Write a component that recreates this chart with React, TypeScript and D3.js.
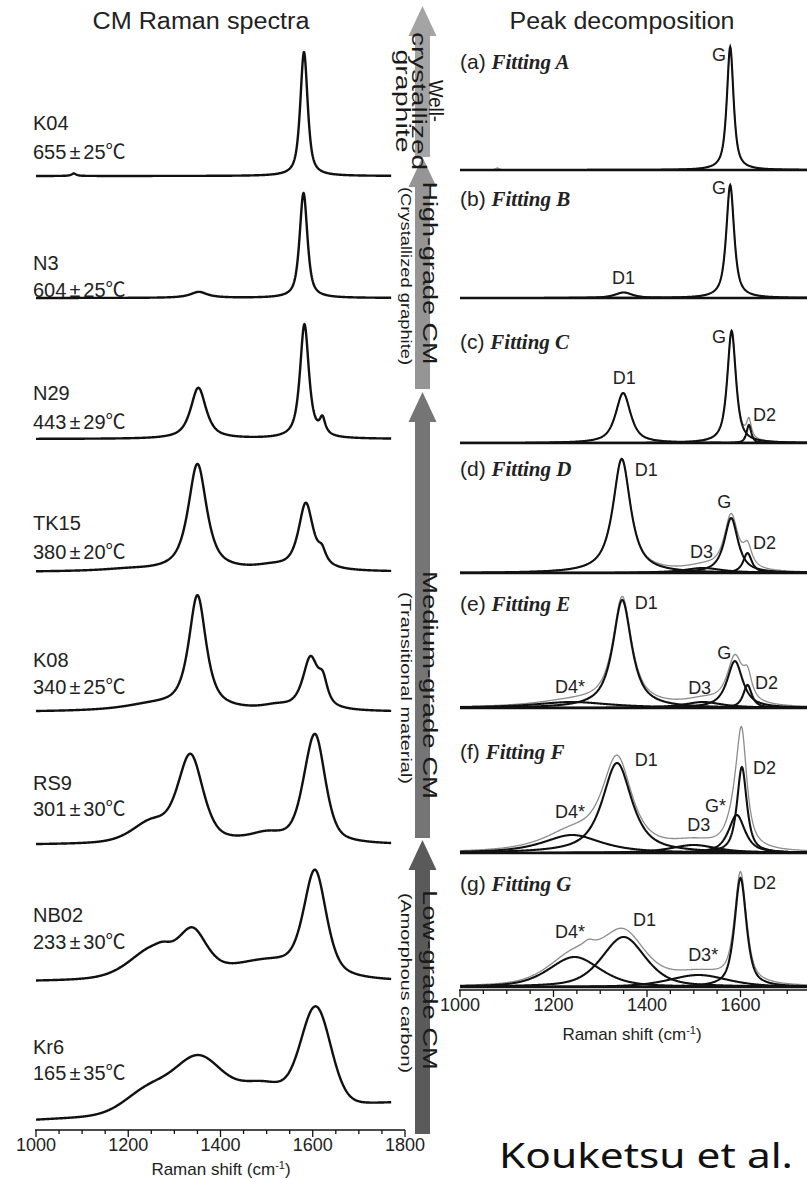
import React from 'react';
import * as d3 from 'd3';

// band = [centre (cm-1), height, FWHM (cm-1), Lorentzian fraction]
type Band = [number, number, number, number];

const W = 807;
const H = 1179;
const FONT = "'Liberation Sans', Arial, 'Noto Sans CJK JP', sans-serif";
const SERIF = "'Liberation Serif', 'Times New Roman', serif";

// ---- left column: measured spectra ----
const sampleNames = ['K04', 'N3', 'N29', 'TK15', 'K08', 'RS9', 'NB02', 'Kr6'];
const sampleTemps = ['655', '604', '443', '380', '340', '301', '233', '165'];
const sampleErrors = ['25', '25', '29', '20', '25', '30', '30', '35'];

const specK04: Band[] = [[1581, 124, 19, 0.7], [1082, 2.5, 12, 1]];
const specN3: Band[] = [[1580, 105, 20, 0.7], [1353, 6, 45, 1]];
const specN29: Band[] = [[1582, 114, 23, 0.8], [1352, 51, 40, 0.8], [1621, 16, 15, 1]];
const specTK15: Band[] = [[1350, 107, 48, 0.8], [1585, 66, 38, 0.8], [1620, 13, 22, 1], [1510, 4, 100, 1], [1200, 2, 150, 1]];
const specK08: Band[] = [[1350, 114, 45, 0.8], [1595, 51, 40, 0.8], [1622, 22, 24, 0.8], [1250, 6, 160, 1], [1520, 4, 80, 1]];
const specRS9: Band[] = [[1335, 86, 65, 0.5], [1250, 20, 100, 0.5], [1500, 9, 100, 1], [1585, 14, 50, 0.5], [1606, 100, 52, 0.5]];
const specNB02: Band[] = [[1340, 42, 75, 0.5], [1250, 28, 120, 0.5], [1500, 18, 200, 0.5], [1605, 103, 58, 0.5], [1275, 6, 45, 1]];
const specKr6: Band[] = [[1352, 52, 120, 0.1], [1245, 24, 120, 0.1], [1490, 25, 140, 0.1], [1607, 96, 76, 0.1]];
// rise of the background at the high-shift end of each spectrum
const specSlope = [0, 0, 0, 0, 0, 0, 0, 17];

// ---- right column: peak decomposition ----
const fitLetters = ['(a)', '(b)', '(c)', '(d)', '(e)', '(f)', '(g)'];
const fitNames = ['Fitting A', 'Fitting B', 'Fitting C', 'Fitting D', 'Fitting E', 'Fitting F', 'Fitting G'];

const fitA: Band[] = [[1578, 123, 17, 0.8]];
const fitB: Band[] = [[1578, 113, 20, 0.8], [1350, 5.5, 45, 0.8]];
const fitC: Band[] = [[1581, 112, 22, 0.8], [1349, 50, 38, 0.8], [1618, 18, 12, 0.8]];
const fitD: Band[] = [[1346, 114, 45, 0.9], [1580, 55, 35, 0.9], [1615, 20, 22, 0.9], [1520, 5, 100, 1]];
const fitE: Band[] = [[1347, 108, 48, 0.9], [1588, 47, 40, 0.9], [1615, 23, 22, 0.9], [1520, 6, 100, 1], [1240, 6, 200, 1]];
const fitF: Band[] = [[1336, 90, 75, 0.8], [1240, 18, 150, 0.8], [1500, 8, 120, 0.8], [1592, 38, 42, 0.8], [1603, 86, 25, 0.8]];
const fitG: Band[] = [[1245, 30, 130, 0.5], [1350, 50, 110, 0.5], [1510, 12, 150, 0.5], [1600, 109, 30, 0.7]];
// spectrum features left out of the fit (only in the grey envelope)
const fitResidual: Band[][] = [[[1080, 2, 10, 1]], [], [], [], [], [[1600, 6, 20, 1]], [[1275, 6, 30, 1]]];

// peak labels: [text, shift of label start, height above baseline]
const labelsA: [string, number, number][] = [['G', 1539, 115]];
const labelsB: [string, number, number][] = [['G', 1539, 110], ['D1', 1325, 20]];
const labelsC: [string, number, number][] = [['G', 1539, 106], ['D1', 1327, 65], ['D2', 1627, 28]];
const labelsD: [string, number, number][] = [['D1', 1374, 103], ['G', 1550, 71], ['D2', 1627, 30], ['D3', 1492, 21]];
const labelsE: [string, number, number][] = [['D1', 1374, 105], ['G', 1550, 55], ['D2', 1631, 25], ['D3', 1488, 20], ['D4*', 1203, 21]];
const labelsF: [string, number, number][] = [['D1', 1374, 93], ['D2', 1627, 85], ['G*', 1524, 47], ['D3', 1486, 28], ['D4*', 1203, 41]];
const labelsG: [string, number, number][] = [['D2', 1627, 104], ['D1', 1370, 67], ['D4*', 1203, 55], ['D3*', 1488, 32]];

const tickValues = [1000, 1200, 1400, 1600, 1800];

// grade arrows
const gradeMain = [['Well-', 'crystallized', 'graphite'], ['High-grade CM'], ['Medium-grade CM'], ['Low-grade CM']];
const gradeSub = ['', '(Crystallized graphite)', '(Transitional material)', '(Amorphous carbon)'];

// ---- layout ----
const leftBase = [176, 298, 439, 572, 712, 845, 982, 1120];
const leftLabelY = [[123, 152], [263, 290], [393, 422], [523, 552], [660, 687], [783, 809], [915, 942], [1047, 1073]];
const rightBase = [170, 298, 443, 573, 708, 853, 987];
const fitTitleY = [63, 200, 343, 470, 605, 753, 885];
const arrowSpans = [[6, 157], [157, 389], [392, 838], [840, 1134]];
const arrowColors = ['#a4a4a4', '#959595', '#757575', '#5a5a5a'];
const arrowTextY = [101, 273, 685, 980];
const arrowMainLen = [[42, 138, 103], [183], [228], [180]];
const arrowSubLen = [0, 178, 192, 180];

const pv = (x: number, [c, h, w, eta]: Band) => {
  const u = (x - c) / w;
  return h * (eta / (1 + 4 * u * u) + (1 - eta) * Math.exp(-4 * Math.LN2 * u * u));
};
const sumBands = (x: number, bands: Band[]) => bands.reduce((s, b) => s + pv(x, b), 0);

const xLeft = d3.scaleLinear().domain([1000, 1800]).range([36, 405]);
const xRight = d3.scaleLinear().domain([1000, 1800]).range([460, 834]);
const shiftsLeft = d3.range(1000, 1770.5, 1);
const shiftsRight = d3.range(1000, 1800.5, 1);

const Axis = ({ x, y, x1 }: { x: d3.ScaleLinear<number, number>; y: number; x1: number }) => (
  <g>
    <line x1={x(1000) - 1} x2={x1} y1={y} y2={y} stroke="#111" strokeWidth={1.6} />
    {x.ticks(16).filter(t => x(t) <= W).map(t => (
      <line key={t} x1={x(t)} x2={x(t)} y1={y} y2={y + (t % 200 === 0 ? 7 : 4)} stroke="#111" strokeWidth={1.3} />
    ))}
    {tickValues.filter(t => x(t) + 22 <= W).map(t => (
      <text key={t} x={x(t)} y={y + 15} dy="0.35em" textAnchor="middle" fontSize={18} fill="#222">{t}</text>
    ))}
  </g>
);

const AxisTitle = ({ x, y }: { x: number; y: number }) => (
  <text x={x} y={y} textAnchor="middle" fontSize={17} fill="#222">
    Raman shift (cm<tspan dy={-6} fontSize={11}>-1</tspan><tspan dy={6}>)</tspan>
  </text>
);

export default function App() {
  const spectra = [specK04, specN3, specN29, specTK15, specK08, specRS9, specNB02, specKr6];
  const fits = [fitA, fitB, fitC, fitD, fitE, fitF, fitG];
  const fitLabels = [labelsA, labelsB, labelsC, labelsD, labelsE, labelsF, labelsG];

  return (
    <svg width={W} height={H} viewBox={`0 0 ${W} ${H}`}
      style={{ position: 'absolute', left: 0, top: 0, background: '#fff', fontFamily: FONT }}>
      <rect width={W} height={H} fill="#fff" />

      {/* titles */}
      <text x={201} y={21} dy="0.35em" textAnchor="middle" fontSize={23} fill="#222" textLength={217} lengthAdjust="spacingAndGlyphs">CM Raman spectra</text>
      <text x={622} y={21} dy="0.35em" textAnchor="middle" fontSize={23} fill="#222" textLength={225} lengthAdjust="spacingAndGlyphs">Peak decomposition</text>

      {/* left: spectra */}
      {spectra.map((bands, i) => {
        const y = d3.scaleLinear().domain([0, 100]).range([leftBase[i], leftBase[i] - 100]);
        const line = d3.line<number>()
          .x(s => xLeft(s))
          .y(s => y(sumBands(s, bands) + specSlope[i] * (s - 1000) / 770));
        return (
          <g key={sampleNames[i]}>
            <path d={line(shiftsLeft) ?? ''} fill="none" stroke="#111" strokeWidth={2.4} strokeLinejoin="round" />
            <text x={33} y={leftLabelY[i][0]} dy="0.35em" fontSize={20} fill="#222">{sampleNames[i]}</text>
            <text x={33} y={leftLabelY[i][1]} dy="0.35em" fontSize={20} fill="#222">
              {sampleTemps[i]}<tspan dx={3}>±</tspan><tspan dx={3}>{sampleErrors[i]}℃</tspan>
            </text>
          </g>
        );
      })}
      <Axis x={xLeft} y={1130} x1={xLeft(1800)} />
      <AxisTitle x={221} y={1175} />

      {/* right: decomposition */}
      {fits.map((bands, i) => {
        const y = d3.scaleLinear().domain([0, 100]).range([rightBase[i], rightBase[i] - 100]);
        const env = d3.line<number>()
          .x(s => xRight(s))
          .y(s => y(sumBands(s, bands) + sumBands(s, fitResidual[i])));
        return (
          <g key={fitNames[i]}>
            <path d={env(shiftsRight) ?? ''} fill="none" stroke="#8c8c8c" strokeWidth={1.3} />
            {bands.map((b, j) => {
              const comp = d3.line<number>().x(s => xRight(s)).y(s => y(pv(s, b)));
              return <path key={j} d={comp(shiftsRight) ?? ''} fill="none" stroke="#111" strokeWidth={2.1} />;
            })}
            <line x1={xRight(1000)} x2={W} y1={rightBase[i]} y2={rightBase[i]} stroke="#111" strokeWidth={2.6} />
            <text x={460} y={fitTitleY[i]} dy="0.35em" fill="#222">
              <tspan fontSize={21}>{fitLetters[i]} </tspan>
              <tspan fontFamily={SERIF} fontStyle="italic" fontWeight="bold" fontSize={21}>{fitNames[i]}</tspan>
            </text>
            {fitLabels[i].map(([t, s, h]) => (
              <text key={t} x={xRight(s)} y={y(h)} dy="0.35em" fontSize={18} fill="#222">{t}</text>
            ))}
          </g>
        );
      })}
      <Axis x={xRight} y={990} x1={W} />
      <AxisTitle x={632} y={1040} />

      {/* grade arrows */}
      {arrowSpans.map(([tip, end], i) => {
        const cx = 422.5;
        const d = `M${cx},${tip} L${cx + 14},${tip + 30} L${cx + 7.5},${tip + 30} L${cx + 7.5},${end} ` +
          `L${cx - 7.5},${end} L${cx - 7.5},${tip + 30} L${cx - 14},${tip + 30} Z`;
        return <path key={i} d={d} fill={arrowColors[i]} />;
      })}
      {gradeMain.map((lines, i) => (
        <g key={i}>
          {lines.map((t, k) => {
            const x = lines.length > 1 ? 436 - k * 16.5 : 430;
            return (
              <text key={t} transform={`translate(${x},${arrowTextY[i]}) rotate(90)`} textAnchor="middle" dy="0.35em"
                fontSize={21} fill="#1a1a1a" textLength={arrowMainLen[i][k]} lengthAdjust="spacingAndGlyphs">{t}</text>
            );
          })}
          {gradeSub[i] && (
            <text transform={`translate(406,${arrowTextY[i] + 3}) rotate(90)`} textAnchor="middle" dy="0.35em"
              fontSize={15.5} fill="#1a1a1a" textLength={arrowSubLen[i]} lengthAdjust="spacingAndGlyphs">{gradeSub[i]}</text>
          )}
        </g>
      ))}

      <text x={499} y={1168} fontSize={34} fill="#111" fontFamily="'Noto Sans', Roboto, sans-serif"
        textLength={294} lengthAdjust="spacingAndGlyphs">Kouketsu et al.</text>
    </svg>
  );
}
